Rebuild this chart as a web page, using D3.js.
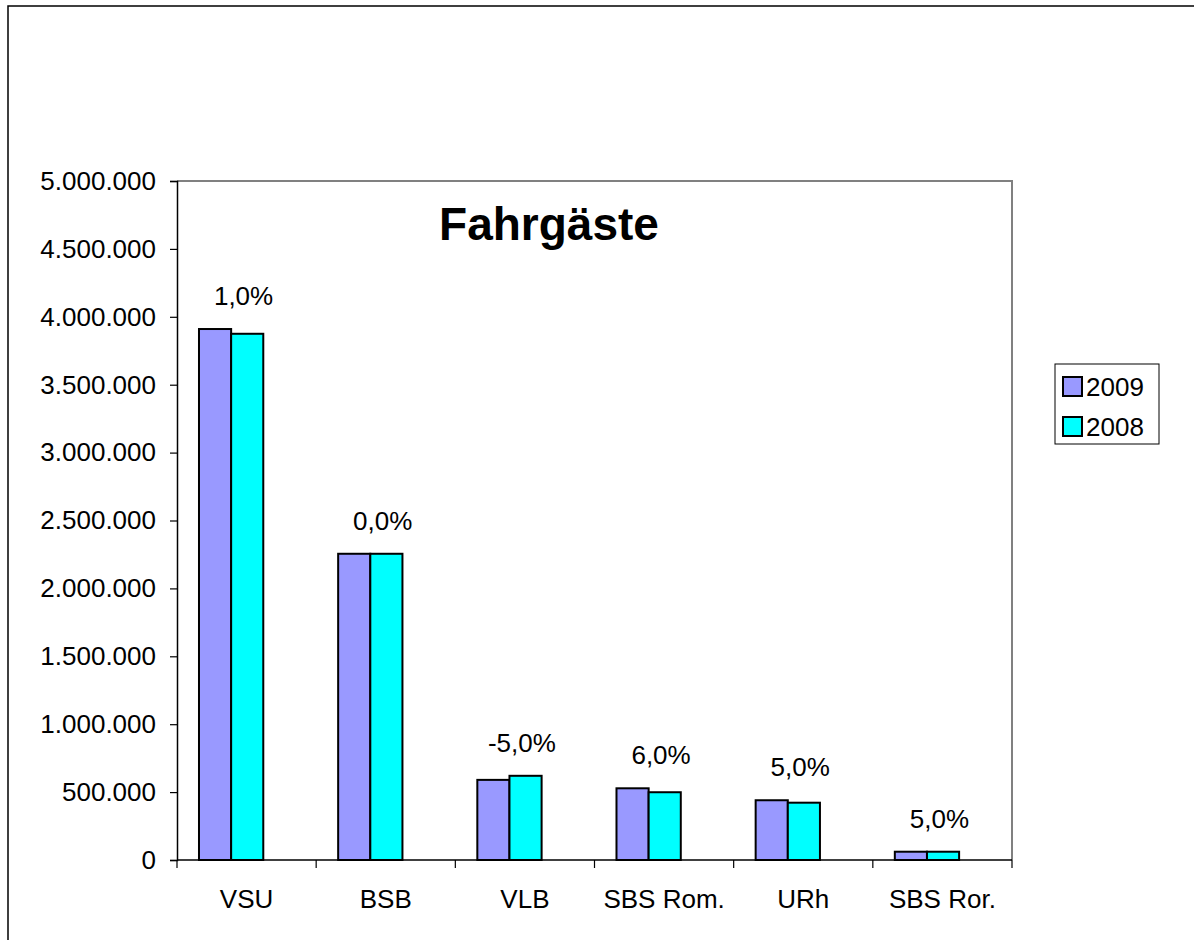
<!DOCTYPE html>
<html>
<head>
<meta charset="utf-8">
<script src="https://cdn.jsdelivr.net/npm/d3@7"></script>
<style>
  body { margin: 0; background: #fff; }
  svg text { font-family: "Liberation Sans", Arial, sans-serif; fill: #000; }
</style>
</head>
<body>
<div id="chart"></div>
<script>
const categories = ["VSU", "BSB", "VLB", "SBS Rom.", "URh", "SBS Ror."];
const values2009 = [3910000, 2255000, 590000, 528000, 440000, 61000];
const values2008 = [3875000, 2255000, 620000, 499000, 422000, 61000];
const changeLabels = ["1,0%", "0,0%", "-5,0%", "6,0%", "5,0%", "5,0%"];
const yTicks = [0, 500000, 1000000, 1500000, 2000000, 2500000, 3000000, 3500000, 4000000, 4500000, 5000000];
const seriesNames = ["2009", "2008"];
const seriesColors = ["#9999FF", "#00FFFF"];

const width = 1194, height = 940;
const plot = { left: 177, top: 181, right: 1012, bottom: 860 };

const svg = d3.select("#chart").append("svg")
    .attr("width", width)
    .attr("height", height);

// outer chart border (runs off the right / bottom edge)
svg.append("rect")
    .attr("x", 8).attr("y", 6)
    .attr("width", width + 20).attr("height", height + 20)
    .attr("fill", "none")
    .attr("stroke", "#000")
    .attr("stroke-width", 1.5);

const x0 = d3.scaleBand()
    .domain(categories)
    .range([plot.left, plot.right]);

// the bar pair sits a bit left of the category centre, like the original
const x1 = d3.scaleBand()
    .domain(seriesNames)
    .range([x0.bandwidth() * 0.158, x0.bandwidth() * 0.62]);

const y = d3.scaleLinear()
    .domain([0, 5000000])
    .range([plot.bottom, plot.top]);

const fmt = d3.formatLocale({ decimal: ",", thousands: ".", grouping: [3], currency: ["", "€"] }).format(",d");

// plot area frame: grey top and right edges
svg.append("path")
    .attr("d", `M${plot.left},${plot.top}H${plot.right}V${plot.bottom}`)
    .attr("fill", "none")
    .attr("stroke", "#808080")
    .attr("stroke-width", 2);

// y axis
const yAxis = svg.append("g")
    .attr("transform", `translate(${plot.left},0)`)
    .call(d3.axisLeft(y).tickValues(yTicks).tickFormat(fmt).tickSize(7).tickPadding(14));
yAxis.select(".domain").attr("stroke", "#000").attr("stroke-width", 1.5);
yAxis.selectAll(".tick line").attr("stroke", "#000").attr("stroke-width", 1.2);
yAxis.selectAll(".tick text")
    .attr("font-size", "26px")
    .attr("font-family", "Liberation Sans, Arial, sans-serif");

// x axis: ticks sit between the categories
const xAxis = svg.append("g")
    .attr("transform", `translate(0,${plot.bottom})`);
xAxis.append("line")
    .attr("x1", plot.left).attr("x2", plot.right)
    .attr("stroke", "#000").attr("stroke-width", 1.5);
xAxis.selectAll(".sep")
    .data(categories.concat(["end"]))
    .enter().append("line")
    .attr("class", "sep")
    .attr("x1", (d, i) => i < categories.length ? x0(d) : plot.right)
    .attr("x2", (d, i) => i < categories.length ? x0(d) : plot.right)
    .attr("y1", 0).attr("y2", 8)
    .attr("stroke", "#000").attr("stroke-width", 1.2);
xAxis.selectAll(".cat")
    .data(categories)
    .enter().append("text")
    .attr("class", "cat")
    .attr("x", d => x0(d) + x0.bandwidth() / 2)
    .attr("y", 48)
    .attr("text-anchor", "middle")
    .attr("font-size", "26px")
    .text(d => d);

// bars
const rows = categories.map((c, i) => ({ cat: c, vals: [values2009[i], values2008[i]], label: changeLabels[i] }));

const groups = svg.selectAll(".group")
    .data(rows)
    .enter().append("g")
    .attr("class", "group")
    .attr("transform", d => `translate(${x0(d.cat)},0)`);

groups.selectAll("rect")
    .data(d => d.vals.map((v, k) => ({ name: seriesNames[k], value: v, color: seriesColors[k] })))
    .enter().append("rect")
    .attr("x", d => x1(d.name))
    .attr("y", d => y(d.value))
    .attr("width", x1.bandwidth())
    .attr("height", d => plot.bottom - y(d.value))
    .attr("fill", d => d.color)
    .attr("stroke", "#000")
    .attr("stroke-width", 2);

// change labels above each pair
groups.append("text")
    .attr("x", x0.bandwidth() / 2 - 3)
    .attr("y", d => y(d3.max(d.vals)) - 24)
    .attr("text-anchor", "middle")
    .attr("font-size", "26px")
    .text(d => d.label);

// title
svg.append("text")
    .attr("x", 549)
    .attr("y", 240)
    .attr("text-anchor", "middle")
    .attr("font-size", "46px")
    .attr("font-weight", "bold")
    .text("Fahrgäste");

// legend
const legend = svg.append("g").attr("transform", "translate(1055,364)");
legend.append("rect")
    .attr("width", 104).attr("height", 80)
    .attr("fill", "#fff")
    .attr("stroke", "#000").attr("stroke-width", 1);
const items = legend.selectAll(".item")
    .data(seriesNames)
    .enter().append("g")
    .attr("class", "item")
    .attr("transform", (d, i) => `translate(8,${13 + i * 40})`);
items.append("rect")
    .attr("width", 19).attr("height", 19)
    .attr("fill", (d, i) => seriesColors[i])
    .attr("stroke", "#000").attr("stroke-width", 2);
items.append("text")
    .attr("x", 23)
    .attr("y", 19)
    .attr("font-size", "26px")
    .text(d => d);
</script>
</body>
</html>
